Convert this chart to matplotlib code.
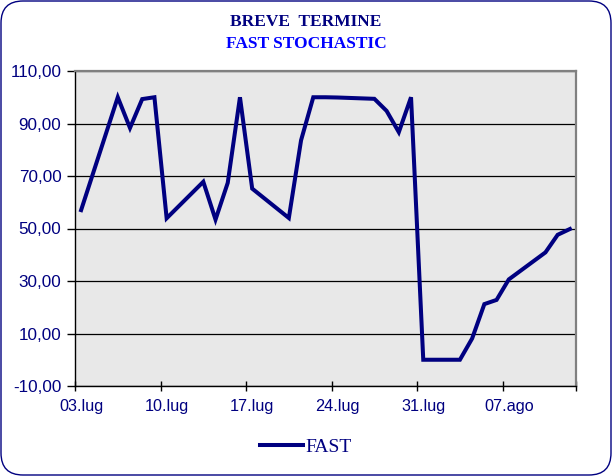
import numpy as np
import matplotlib
matplotlib.use('Agg')
import matplotlib.pyplot as plt
from matplotlib.patches import FancyBboxPatch

# dati
dates = ['2015-07-03',
         '2015-07-06', '2015-07-07', '2015-07-08', '2015-07-09', '2015-07-10',
         '2015-07-13', '2015-07-14', '2015-07-15', '2015-07-16', '2015-07-17',
         '2015-07-20', '2015-07-21', '2015-07-22', '2015-07-23', '2015-07-24',
         '2015-07-27', '2015-07-28', '2015-07-29', '2015-07-30', '2015-07-31',
         '2015-08-03', '2015-08-04', '2015-08-05', '2015-08-06', '2015-08-07',
         '2015-08-10', '2015-08-11', '2015-08-12']
fast = [57.0,
        100.0, 88.3, 99.3, 100.0, 53.9,
        67.8, 53.4, 67.4, 100.0, 65.2,
        54.0, 83.6, 100.0, 100.0, 99.9,
        99.4, 94.8, 86.7, 100.0, 0.0,
        0.0, 8.1, 21.2, 22.8, 30.6,
        40.9, 47.6, 49.8]
tick_labels = ['03.lug', '10.lug', '17.lug', '24.lug', '31.lug', '07.ago']
y_ticks = [-10, 10, 30, 50, 70, 90, 110]

navy = '#000080'

d = np.array(dates, dtype='datetime64[D]')
days = (d - d[0]).astype(int)
n_days = int(days[-1]) + 1

fig = plt.figure(figsize=(6.12, 4.76), dpi=100)
fig.patch.set_facecolor('white')

border = FancyBboxPatch((0.01, 0.01), 6.10, 4.74, boxstyle='round,pad=0,rounding_size=0.22',
                        transform=fig.dpi_scale_trans, facecolor='none', edgecolor=navy,
                        linewidth=1.0)
fig.patches.append(border)

ax = fig.add_axes([75 / 612, 1 - 386 / 476, 501 / 612, 315 / 476])
ax.set_facecolor('#E8E8E8')

ax.plot(days, fast, color=navy, linewidth=2.9, solid_joinstyle='miter', label='FAST')

ax.set_xlim(-0.5, n_days - 0.5)
ax.set_ylim(-10, 110)

# etichette asse y con la virgola
ax.set_yticks(y_ticks)
ax.set_yticklabels([('%.2f' % v).replace('.', ',') for v in y_ticks])
ax.tick_params(axis='y', direction='out', length=5.8, width=1, pad=4,
               labelsize=12.3, labelcolor=navy, color='black')
for lab in ax.get_yticklabels():
    lab.set_family('Liberation Sans')

label_pos = np.arange(len(tick_labels)) * 7
ax.set_xticks(np.append(label_pos - 0.5, n_days - 0.5))
ax.set_xticklabels([])
ax.tick_params(axis='x', which='major', direction='inout', length=7, width=1, color='black')
ax.set_xticks(label_pos, minor=True)
ax.set_xticklabels(tick_labels, minor=True, family='Liberation Sans')
ax.tick_params(axis='x', which='minor', length=0, pad=9, labelsize=11.7, labelcolor=navy)

ax.grid(axis='y', color='black', linewidth=0.9)
ax.set_axisbelow(True)

ax.spines['left'].set_color('black')
ax.spines['bottom'].set_color('black')
ax.spines['left'].set_linewidth(1)
ax.spines['bottom'].set_linewidth(1)
ax.spines['top'].set_color('#808080')
ax.spines['right'].set_color('#808080')
ax.spines['top'].set_linewidth(1.6)
ax.spines['right'].set_linewidth(1.6)

fig.text(0.5, 1 - 22 / 476, 'BREVE  TERMINE', ha='center', va='center',
         family='Liberation Serif', weight='bold', fontsize=12.5, color=navy)
fig.text(0.5, 1 - 44 / 476, 'FAST STOCHASTIC', ha='center', va='center',
         family='Liberation Serif', weight='bold', fontsize=12.5, color='#0000FF')

leg = fig.legend(loc='center', bbox_to_anchor=(0.5, 1 - 447 / 476), frameon=False,
                 handlelength=2.2, handletextpad=0.15,
                 prop={'family': 'Liberation Serif', 'size': 14})
for t in leg.get_texts():
    t.set_color(navy)

fig.savefig('out.png', dpi=100)
